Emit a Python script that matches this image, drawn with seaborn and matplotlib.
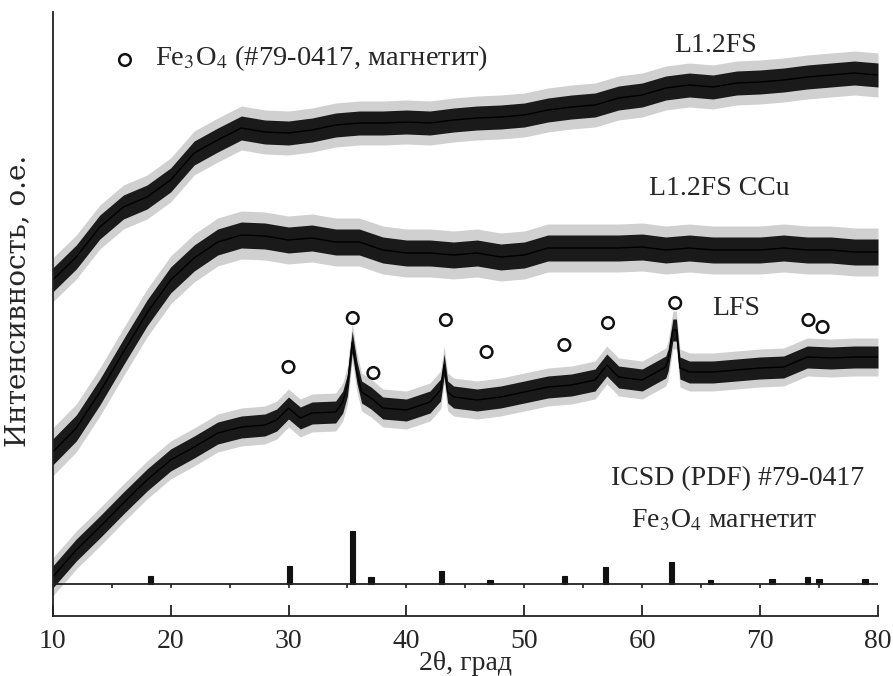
import numpy as np
import pandas as pd
import matplotlib
matplotlib.use("Agg")
import matplotlib.pyplot as plt
import seaborn as sns

# ---------------- data (intensity in arbitrary units) ----------------
x_l12fs = [10, 12, 14, 16, 18, 20, 22, 24, 26, 28, 30, 32, 34, 36, 38, 40, 42, 44,
           46, 48, 50, 52, 54, 56, 58, 60, 62, 64, 66, 68, 70, 72, 74, 76, 78, 80]
y_l12fs = [336, 359, 389, 409, 419, 436, 463, 476, 488, 484, 483, 486, 491, 493, 493, 494, 493, 496,
           498, 499, 501, 506, 509, 511, 518, 521, 528, 531, 529, 533, 534, 536, 539, 541, 543, 541]

x_ccu = [10, 12, 14, 16, 18, 20, 22, 24, 26, 28, 30, 32, 34, 36, 38, 40, 42, 44,
         46, 48, 50, 52, 54, 56, 58, 60, 62, 64, 66, 68, 70, 72, 74, 76, 78, 80]
y_ccu = [164, 188, 224, 264, 303, 336, 358, 374, 381, 380, 376, 378, 374, 374, 366, 363, 363, 361,
         363, 359, 361, 368, 368, 368, 368, 369, 366, 368, 366, 366, 366, 368, 366, 366, 364, 364]

x_lfs = [10, 12, 14, 16, 18, 20, 22, 24, 26, 28, 29, 30, 31, 32, 34, 34.6, 35.0, 35.4, 35.8, 36.2,
         37, 38, 40, 42, 42.9, 43.2, 43.5, 44, 46, 48, 50, 52, 54, 56, 57, 58, 60, 62, 62.2, 62.6,
         62.9, 63.2, 64, 66, 68, 70, 72, 74, 76, 78, 80]
y_lfs = [39, 66, 89, 113, 136, 156, 169, 183, 189, 191, 196, 208, 198, 203, 204, 214, 231, 274, 244, 224,
         218, 208, 206, 214, 226, 251, 224, 219, 216, 219, 224, 229, 231, 236, 251, 239, 236, 249, 256, 286,
         286, 248, 244, 244, 246, 248, 249, 259, 258, 259, 259]

noise_halfwidth = {"L1.2FS": 12, "L1.2FS CCu": 13, "LFS": 11}
spike_halfwidth = {"L1.2FS": 22, "L1.2FS CCu": 24, "LFS": 19}

# reference pattern ICSD (PDF) #79-0417 (magnetite)
ref_pos = [18.3, 30.1, 35.4, 37.0, 43.0, 47.1, 53.4, 56.9, 62.5, 65.8, 71.0, 74.0, 75.0, 78.9]
ref_int = [8, 18, 53, 7, 13, 4, 8, 17, 22, 4, 5, 7, 5, 5]
ref_base = 32

# Fe3O4 reflection markers on the LFS pattern
mark_x = [30.0, 35.45, 37.2, 43.35, 46.8, 53.4, 57.1, 62.8, 74.1, 75.3]
mark_y = [249, 298, 243, 296, 264, 271, 293, 313, 296, 289]

# ---------------- style ----------------
sns.set_style("ticks")
plt.rcParams["font.family"] = ["Liberation Serif", "DejaVu Serif"]
plt.rcParams["mathtext.fontset"] = "stix"
FS = 20

fig = plt.figure(figsize=(8.93, 6.76), dpi=100)
W, H = 893, 676
ax = fig.add_axes([52.7 / W, (H - 616) / H, (878 - 52.7) / W, (616 - 12) / H])

curves = [("L1.2FS", x_l12fs, y_l12fs), ("L1.2FS CCu", x_ccu, y_ccu), ("LFS", x_lfs, y_lfs)]
for name, xs, ys in curves:
    xs = np.asarray(xs, float)
    ys = np.asarray(ys, float)
    s = spike_halfwidth[name]
    n = noise_halfwidth[name]
    ax.fill_between(xs, ys - s, ys + s, color="#7a7a7a", alpha=0.35, lw=0)
    ax.fill_between(xs, ys - n, ys + n, color="#1a1a1a", lw=0)
    sns.lineplot(x=xs, y=ys, ax=ax, color="black", lw=1.0)

# stick pattern
ax.bar(ref_pos, ref_int, bottom=ref_base, width=0.45, color="#111111",
       edgecolor="#111111", linewidth=0.8)
ax.axhline(ref_base, color="#222222", lw=1.3)
ax.vlines(np.arange(15, 80, 5), ref_base - 4, ref_base, color="#222222", lw=1.2)

# markers
ax.scatter(mark_x, mark_y, s=70, facecolors="none", edgecolors="#111111", linewidths=1.8, zorder=5)
ax.scatter([16.13], [556], s=70, facecolors="none", edgecolors="#111111", linewidths=1.8, zorder=5)
ax.text(18.7, 551, r"Fe$_3$O$_4$ (#79-0417, магнетит)", fontsize=20.5, va="baseline", ha="left")

# labels
ax.text(66.26, 564, "L1.2FS", fontsize=FS, ha="center", va="baseline")
ax.text(66.55, 421, "L1.2FS CCu", fontsize=FS, ha="center", va="baseline")
ax.text(68.0, 301, "LFS", fontsize=FS, ha="center", va="baseline")
ax.text(68.1, 131, "ICSD (PDF) #79-0417", fontsize=FS, ha="center", va="baseline")
ax.text(66.95, 89, r"Fe$_3$O$_4$ магнетит", fontsize=FS, ha="center", va="baseline")

# axes
ax.set_xlim(10, 80)
ax.set_ylim(0, 604)
ax.set_xticks([10, 20, 30, 40, 50, 60, 70, 80])
ax.set_yticks([])
ax.tick_params(axis="x", direction="in", length=8, width=1.3, pad=9, labelsize=FS, color="#222222")
for side in ["top", "right"]:
    ax.spines[side].set_visible(False)
for side in ["left", "bottom"]:
    ax.spines[side].set_linewidth(1.3)
    ax.spines[side].set_color("#222222")
ax.set_xlabel("2θ, град", fontsize=FS, labelpad=-2)
ax.set_ylabel("Интенсивность, о.е.", fontsize=20, family=["DejaVu Serif"])
ax.yaxis.set_label_coords((31 - 52.7) / 825.3, (616 - 301) / 604)

fig.savefig("out.png", dpi=100)
